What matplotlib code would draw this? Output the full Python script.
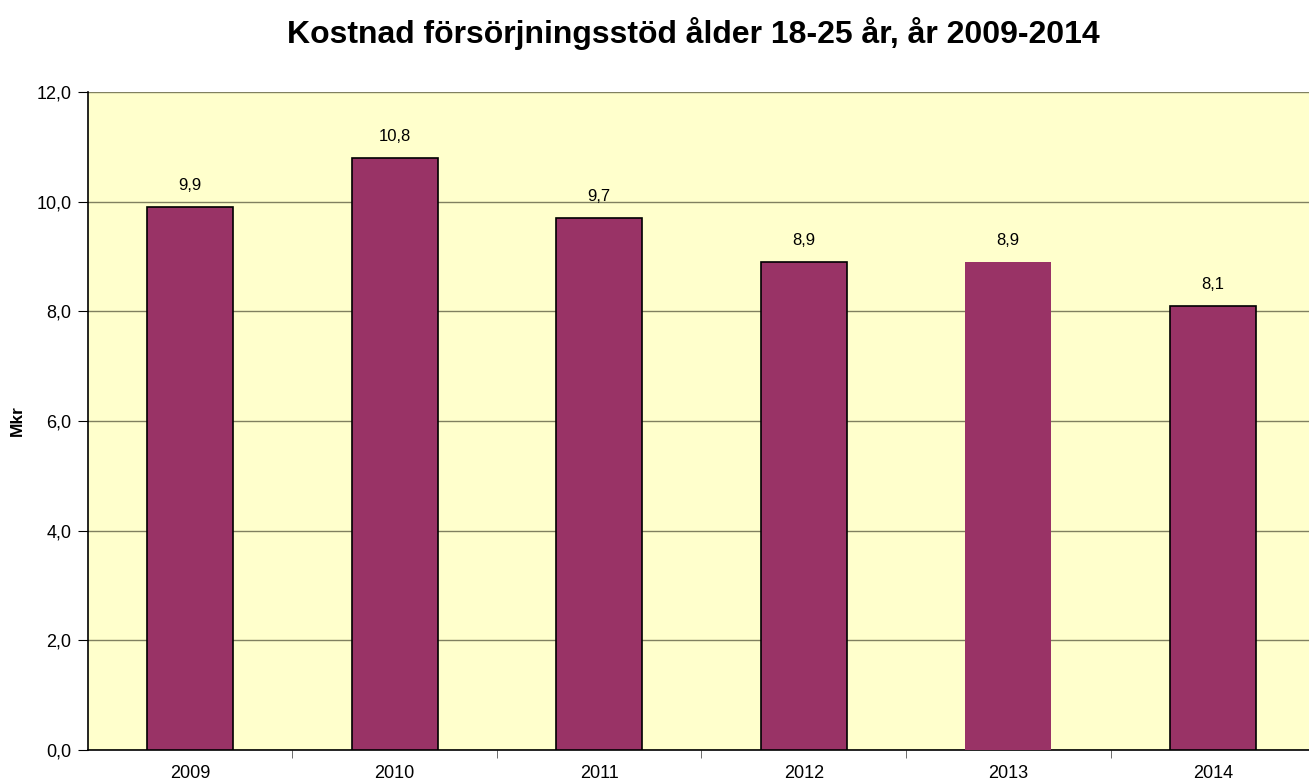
import matplotlib
matplotlib.use("Agg")
import matplotlib.pyplot as plt
from matplotlib.ticker import FuncFormatter, MultipleLocator

years = ["2009", "2010", "2011", "2012", "2013", "2014"]
cost_mkr = [9.9, 10.8, 9.7, 8.9, 8.9, 8.1]
has_edge = [True, True, True, True, False, True]

plt.rcParams["font.family"] = ["Liberation Sans", "DejaVu Sans"]

fig = plt.figure(figsize=(13.09, 7.82), dpi=100)
ax = fig.add_axes([0.0672, 0.0409, 0.9374, 0.8415])
ax.set_facecolor("#FFFFCC")

x = range(len(years))
for xi, val, edge in zip(x, cost_mkr, has_edge):
    ax.bar(xi, val, 0.42, color="#993366",
           edgecolor="black" if edge else "none", linewidth=1.2, zorder=3)
    ax.annotate(f"{val:.1f}".replace(".", ","), (xi, val), xytext=(0, 10),
                textcoords="offset points", ha="center", va="bottom", fontsize=12)

ax.set_xlim(-0.5, len(years) - 0.5)
ax.set_ylim(0, 12)
ax.yaxis.set_major_locator(MultipleLocator(2))
ax.yaxis.set_major_formatter(FuncFormatter(lambda v, p: f"{v:.1f}".replace(".", ",")))
ax.grid(axis="y", color="#808060", linewidth=1.0, zorder=1)
ax.set_xticks(list(x))
ax.set_xticklabels(years)
ax.set_xticks([i + 0.5 for i in range(len(years) - 1)], minor=True)
ax.tick_params(axis="x", which="major", length=0, pad=11, labelsize=13)
ax.tick_params(axis="x", which="minor", length=6, direction="out", color="#555555")
ax.tick_params(axis="y", length=7, direction="out", labelsize=13, pad=5)

for s in ("top", "right"):
    ax.spines[s].set_visible(False)
ax.spines["left"].set_color("black")
ax.spines["bottom"].set_color("black")
ax.spines["left"].set_linewidth(1.2)
ax.spines["bottom"].set_linewidth(1.2)

ax.set_ylabel("Mkr", fontsize=12.5, fontweight="bold", labelpad=8)
fig.text(0.530, 0.957, "Kostnad försörjningsstöd ålder 18-25 år, år 2009-2014",
         ha="center", va="center", fontsize=23, fontweight="bold")

fig.savefig("out.png", dpi=100)
plt.close(fig)
